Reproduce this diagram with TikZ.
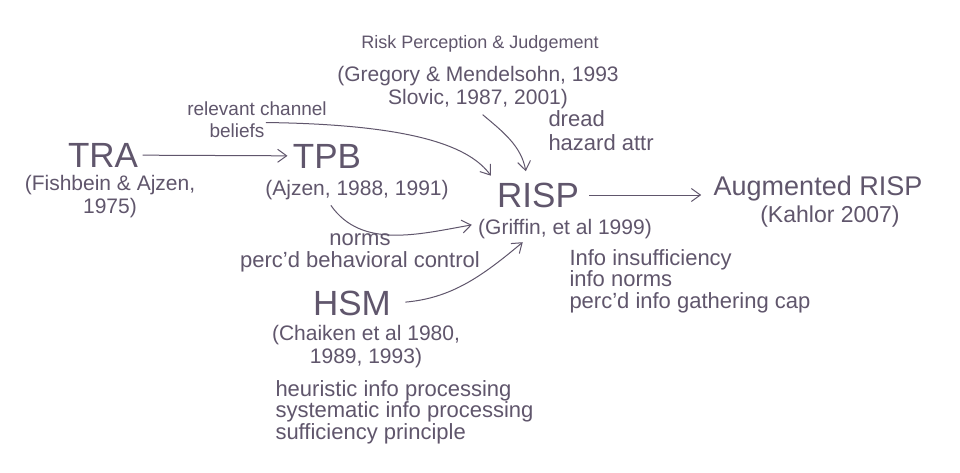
\documentclass[tikz,border=0pt]{standalone}
\usepackage{fontspec}
\setmainfont{Liberation Sans}
\usetikzlibrary{arrows.meta,positioning}
\definecolor{pencil}{RGB}{96,86,108}

\begin{document}
\begin{tikzpicture}[->,>={Straight Barb[length=9pt,width=13pt]},shorten >=1pt,x=1pt,y=1pt,line width=1pt,pencil,
  theory/.style={font=\fontsize{35}{38}\selectfont,inner sep=4pt},
  cite/.style={font=\fontsize{21}{23}\selectfont,align=center,inner sep=1pt},
  factors/.style={font=\fontsize{22}{21.5}\selectfont,align=left,inner sep=1pt}]

\fill[white,-] (0,0) rectangle (960,-473);

% theories
\node[theory] (TRA) at (103,-155) {TRA};
\node[cite]   (TRAcite) at (110,-197) {(Fishbein \& Ajzen,\\1975)};
\node[theory] (TPB) at (327,-156) {TPB};
\node[cite]   (TPBcite) at (357,-190) {(Ajzen, 1988, 1991)};
\node[theory] (RISP) at (538,-195) {RISP};
\node[cite]   (RISPcite) at (565,-229) {(Griffin, et al 1999)};
\node[theory,font=\fontsize{27}{30}\selectfont] (Aug) at (818,-189) {Augmented RISP};
\node[cite,font=\fontsize{23}{26}\selectfont] (Augcite) at (830,-217) {(Kahlor 2007)};
\node[theory] (HSM) at (352,-303) {HSM};
\node[cite]   (HSMcite) at (366,-347) {(Chaiken et al 1980,\\1989, 1993)};

% risk perception
\node[cite,font=\fontsize{18}{20}\selectfont] (RPtitle) at (480,-44) {Risk Perception \& Judgement};
\node[cite] (RPcite) at (478,-88) {(Gregory \& Mendelsohn, 1993\\Slovic, 1987, 2001)};

% factors
\node[cite,font=\fontsize{19}{21}\selectfont] (chanA) at (257,-109) {relevant channel};
\node[cite,font=\fontsize{19}{21}\selectfont] (chanB) at (237,-131) {beliefs};
\node[factors,font=\fontsize{22}{24}\selectfont,anchor=west] (RPfac) at (547,-131) {dread\\hazard attr};
\node[factors,align=center] (TPBfac) at (360,-253) {norms\\perc'd behavioral control};
\node[factors,anchor=west] (RISPfac) at (568,-281) {Info insufficiency\\info norms\\perc'd info gathering cap};
\node[factors,anchor=west] (HSMfac) at (274,-412) {heuristic info processing\\systematic info processing\\sufficiency principle};

% connectors
\draw (TRA) -- (TPB);
\draw[shorten <=6pt,shorten >=8pt] (RISP) -- (RISP -| Aug.west);
\draw[shorten >=3pt] (chanB.north east) .. controls +(153,-2) and +(-22,30) .. (RISP.north west);
\draw[shorten <=6pt,shorten >=7pt] (RPcite.south) to[out=-40,in=100] ([xshift=-11pt]RISP.north);
\draw[shorten <=5pt,shorten >=5pt] ([xshift=-29pt]TPBcite.south) to[out=-55,in=190] ([yshift=5pt]RISPcite.west);
\draw[shorten <=10pt,shorten >=3pt] (HSM.east) to[out=5,in=220] ([xshift=-40pt]RISPcite.south);

\end{tikzpicture}
\end{document}
